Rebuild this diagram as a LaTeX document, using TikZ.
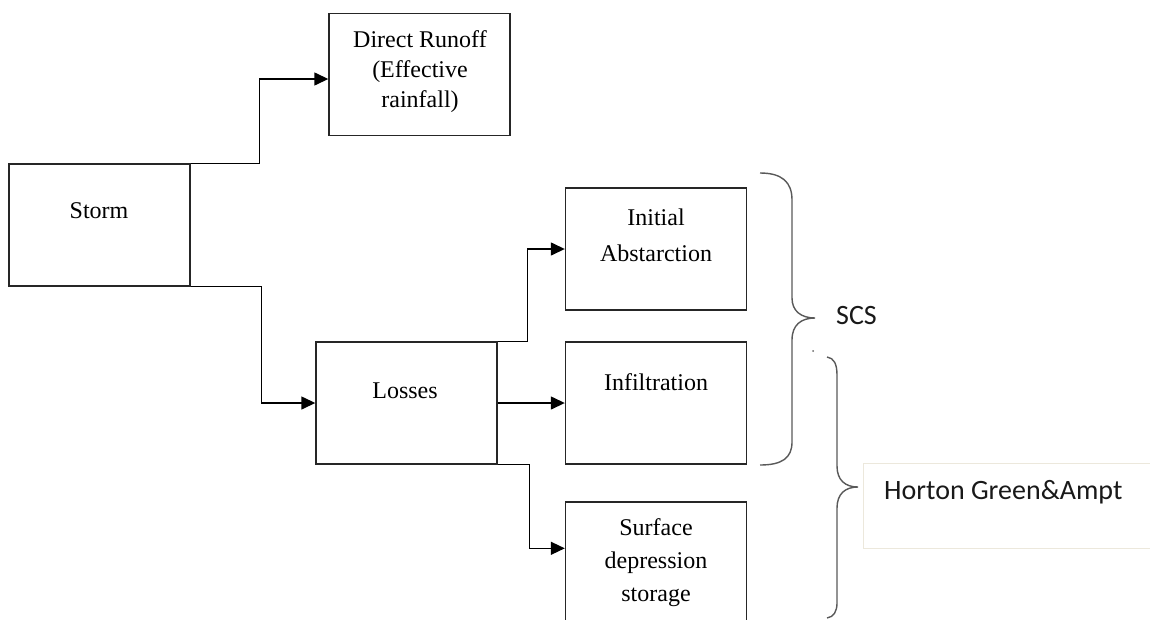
\documentclass[tikz,border=0pt]{standalone}
\usepackage{fontspec}
\setmainfont{Liberation Serif}
\newfontfamily\calib{Carlito}
\usetikzlibrary{arrows.meta,calc}
\tikzset{
  box/.style={draw=black!85, line width=1.4pt, inner sep=0pt, minimum width=181pt, minimum height=122pt},
  arr/.style={draw=black, line width=1.4pt, -{Triangle[length=14pt,width=13pt]}},
  lbl/.style={font=\fontsize{24}{30}\selectfont, inner sep=0pt, anchor=base},
  sans/.style={font=\calib\fontsize{28}{34}\selectfont, inner sep=0pt, anchor=base west, text=black!90},
  brace/.style={draw=black!65, line width=1.4pt}
}
\begin{document}
\begin{tikzpicture}[x=1pt,y=-1pt]
\useasboundingbox (0,0) rectangle (1150,619);
% boxes
\node[box] (storm) at (99.5,225) {};
\node[box] (direct) at (419.5,74.5) {};
\node[box] (losses) at (406.5,403) {};
\node[box] (initial) at (656,249) {};
\node[box] (infil) at (656,403) {};
\node[box] (surface) at (656,563) {};
% texts
\node[lbl] (tstorm) at (99,218) {Storm};
\node[lbl] (td1) at (420,47) {Direct Runoff};
\node[lbl] (td2) at (420,77) {(Effective};
\node[lbl] (td3) at (420,107) {rainfall)};
\node[lbl] (tloss) at (405,398) {Losses};
\node[lbl] (ti1) at (656,225) {Initial};
\node[lbl] (ti2) at (656,261) {Abstarction};
\node[lbl] (tinf) at (656,390) {Infiltration};
\node[lbl] (ts1) at (656,535) {Surface};
\node[lbl] (ts2) at (656,568) {depression};
\node[lbl] (ts3) at (656,601) {storage};
% connectors
\draw[arr] (storm.north east) -- ++(69,0) |- ($(direct.west)+(0,4.5)$);
\draw[arr] (storm.south east) -- ++(71,0) |- (losses.west);
\draw[arr] (losses.north east) -- ++(30,0) |- (initial.west);
\draw[arr] (losses.east) -- (infil.west);
\draw[arr] (losses.south east) -- ++(32,0) |- ($(surface.north west)+(0,47)$);
% braces
\draw[brace] (760,173) .. controls (782,173) and (792,182) .. (792,200) -- (792,298)
  .. controls (792,311) and (801,318) .. (815,318)
  .. controls (801,318) and (792,325) .. (792,340) -- (792,442)
  .. controls (792,458) and (782,465) .. (760,465);
\draw[brace] (827,357) .. controls (834,358) and (837,364) .. (837,375) -- (837,466)
  .. controls (837,480) and (845,487) .. (858,487)
  .. controls (845,487) and (837,494) .. (837,508) -- (837,603)
  .. controls (837,611) and (834,617) .. (827,618);
\fill[black!60] (813,351) circle (1pt);
% labels
\node[sans] (scs) at (836,324) {SCS};
\node[draw={rgb,255:red,236;green,232;blue,220}, line width=1pt, inner sep=0pt, minimum width=289pt, minimum height=85pt, anchor=north west] (hbox) at (863,463) {};
\node[sans] (horton) at (884,499) {Horton Green\&Ampt};
\end{tikzpicture}
\end{document}
